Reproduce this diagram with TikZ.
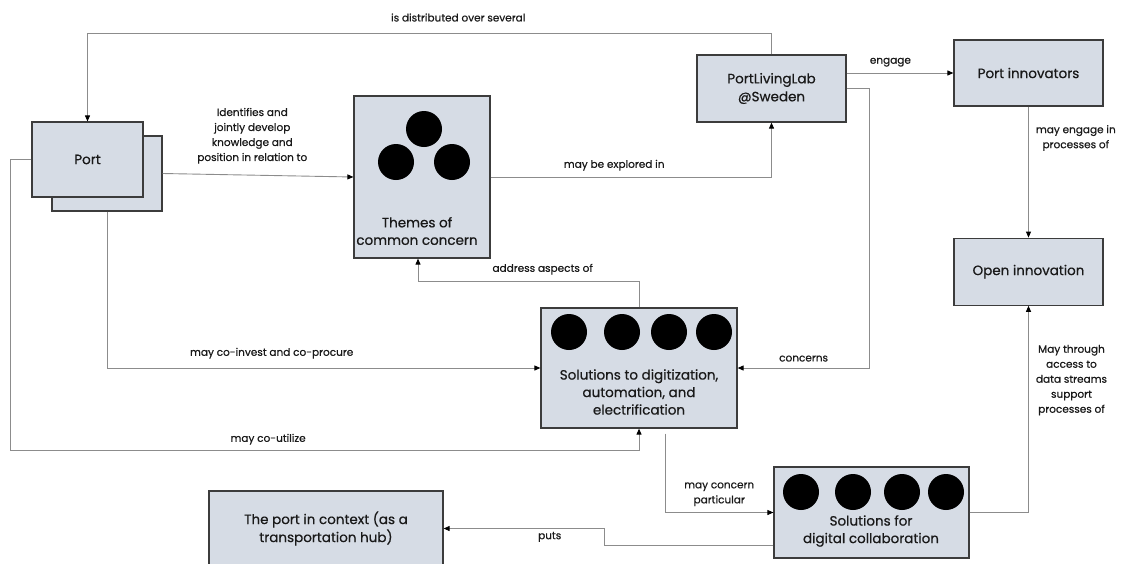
\documentclass[tikz,border=0pt]{standalone}
\usepackage{fontspec}
\setmainfont{Poppins}[BoldFont=Poppins, BoldFeatures={FakeBold=0.6}]
\usepackage{tikz}
\usetikzlibrary{positioning, arrows.meta}
\definecolor{boxfill}{RGB}{214,220,229}
\definecolor{boxline}{RGB}{60,60,60}
\definecolor{wire}{RGB}{140,140,140}
\definecolor{ink}{RGB}{25,25,25}

\begin{document}
\begin{tikzpicture}[
        x=1pt, y=-1pt,
        box/.style    = {draw=boxline, fill=boxfill, line width=1.2pt, inner sep=0pt, align=center, text=ink, font=\fontsize{13.5}{18}\selectfont\bfseries},
        boxtxt/.style = {inner sep=0pt, align=center, text=ink, font=\fontsize{13.5}{17.5}\selectfont\bfseries},
        dot/.style    = {circle, fill=black, minimum size=36pt, inner sep=0pt},
        lbl/.style    = {inner sep=0pt, align=center, text=ink, font=\fontsize{10.5}{15}\selectfont\bfseries},
        arrow/.style  = {draw=wire, line width=0.9pt, -{Triangle[length=6pt, width=5pt, color=black]}},
    ]
        \useasboundingbox (0,0) rectangle (1121,563);
        % Port (two stacked sheets)
        \node[box, minimum width=110pt, minimum height=75pt] (portback) at (107,173.5) {};
        \node[box, minimum width=111pt, minimum height=75pt] (port) at (87.5,159.5) {Port};
        % Themes
        \node[box, minimum width=136pt, minimum height=162pt] (themes) at (422,177) {};
        \node[dot] (th1) at (424,129) {};
        \node[dot] (th2) at (396,162) {};
        \node[dot] (th3) at (452,162) {};
        \node[boxtxt] (themestxt) at (417,231) {Themes of\\common concern};
        % Living lab and innovation
        \node[box, minimum width=149pt, minimum height=67pt] (pll) at (771.5,88.5) {PortLivingLab\\@Sweden};
        \node[box, minimum width=149pt, minimum height=66pt] (innov) at (1028.5,73) {Port innovators};
        \node[box, minimum width=149pt, minimum height=67pt, below=131pt of innov] (openinno) {Open innovation};
        % Solutions
        \node[box, minimum width=196pt, minimum height=120pt] (digit) at (639,368) {};
        \node[dot] (dg1) at (569,332) {};
        \node[dot] (dg2) at (622,332) {};
        \node[dot] (dg3) at (669,332) {};
        \node[dot] (dg4) at (714,332) {};
        \node[boxtxt] (digittxt) at (639,392) {Solutions to digitization,\\automation, and\\electrification};
        \node[box, minimum width=195pt, minimum height=91pt] (collab) at (871.5,512.5) {};
        \node[dot] (cl1) at (801,492) {};
        \node[dot] (cl2) at (853,492) {};
        \node[dot] (cl3) at (902,492) {};
        \node[dot] (cl4) at (946,492) {};
        \node[boxtxt] (collabtxt) at (871,531) {Solutions for\\digital collaboration};
        % Context
        \node[box, minimum width=234pt, minimum height=75pt] (context) at (326,528.5) {The port in context (as a\\transportation hub)};

        % Bend heights
        \coordinate (topy) at (0,33);
        \coordinate (addry) at (0,281);
        \coordinate (utily) at (0,450);

        % Arrows
        \draw[arrow] (pll.north) -- (pll.north |- topy) -| node[lbl, above=11pt, pos=0.229] (distlbl) {is distributed over several} (port.north);
        \draw[arrow] (portback.east) -- node[lbl, above=11pt, pos=0.47] (identlbl) {Identifies and\\jointly develop\\knowledge and\\position in relation to} (themes.west);
        \draw[arrow] (themes.east) -| node[lbl, above=6pt, pos=0.22] (explbl) {may be explored in} (pll.south);
        \draw[arrow] (pll.east |- innov.west) -- node[lbl, above=6pt, pos=0.41] (engagelbl) {engage} (innov.west);
        \draw[arrow] (innov) -- node[lbl, right=7pt, pos=0.24] (procslbl) {may engage in\\processes of} (openinno);
        \draw[arrow] (pll.east) -- ++(23,0) |- node[lbl, above=6pt, pos=0.75] (concernlbl) {concerns} (digit.east);
        \draw[arrow] (digit.north) -- (digit.north |- addry) -| node[lbl, above=6pt, pos=0.218] (addrlbl) {address aspects of} ([xshift=-4pt]themes.south);
        \draw[arrow] (portback.south) |- node[lbl, above=9pt, pos=0.69] (investlbl) {may co-invest and co-procure} (digit.west);
        \draw[arrow] (port.west) -- ++(-21,0) |- node[lbl, above=5pt, pos=0.705] (utillbl) {may co-utilize} (utily -| digit.south) -- (digit.south);
        \draw[arrow] ([xshift=26pt, yshift=-5pt]digit.south) |- node[lbl, above=6pt, pos=0.75] (partlbl) {may concern\\particular} (collab.west);
        \draw[arrow] (collab.east) -| node[lbl, right=7pt, pos=0.82] (streamlbl) {May through\\access to\\data streams\\support\\processes of} (openinno.south);
        \draw[arrow] ([yshift=-32.5pt]collab.west) -- ++(-169,0) |- node[lbl, below=3pt, pos=0.67] (putslbl) {puts} (context.east);
    \end{tikzpicture}
\end{document}
